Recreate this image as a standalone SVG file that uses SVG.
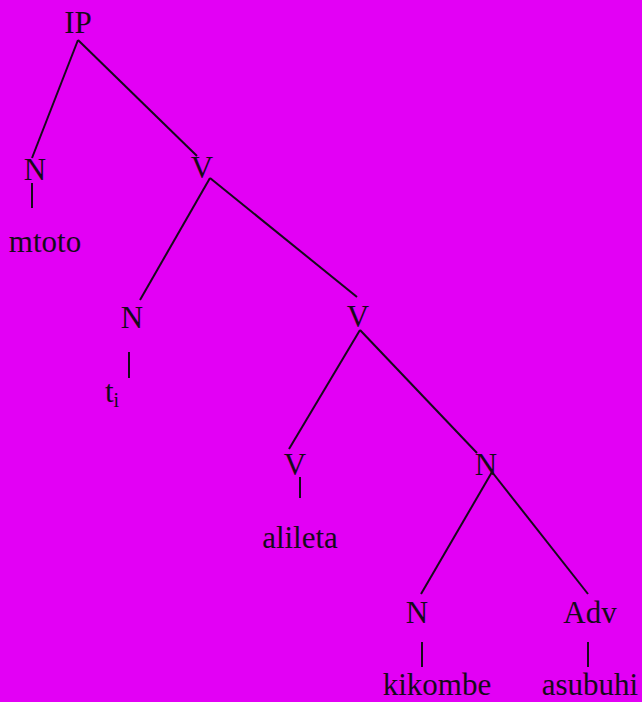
<svg xmlns="http://www.w3.org/2000/svg" width="642" height="702" viewBox="0 0 642 702">
<style>
text{font-family:"Liberation Serif","Times New Roman",serif;font-size:31px;fill:#160a1a;text-anchor:middle}
.e{stroke:#160a1a;stroke-width:2;fill:none}
</style>
<rect width="642" height="702" fill="#E300F5"/>
<g id="connectors">
<line class="e" x1="78" y1="40" x2="32" y2="158"/>
<line class="e" x1="78" y1="40" x2="197" y2="156"/>
<line class="e" x1="32" y1="183" x2="32" y2="208"/>
<line class="e" x1="210" y1="178" x2="140" y2="300"/>
<line class="e" x1="210" y1="178" x2="357" y2="297"/>
<line class="e" x1="129" y1="352" x2="129" y2="378"/>
<line class="e" x1="360" y1="330" x2="289" y2="449"/>
<line class="e" x1="360" y1="330" x2="477" y2="453"/>
<line class="e" x1="300" y1="477" x2="300" y2="498"/>
<line class="e" x1="492" y1="472" x2="421" y2="594"/>
<line class="e" x1="492" y1="472" x2="588" y2="594"/>
<line class="e" x1="422" y1="642" x2="422" y2="667"/>
<line class="e" x1="588" y1="642" x2="588" y2="667"/>
</g>
<g id="IP"><text x="78" y="33">IP</text></g>
<g id="N1"><text x="35" y="180">N</text></g>
<g id="mtoto"><text x="45" y="252">mtoto</text></g>
<g id="V1"><text x="202" y="178">V</text></g>
<g id="N2"><text x="132" y="328">N</text></g>
<g id="ti"><text x="112" y="402">t<tspan font-size="20" dy="5">i</tspan></text></g>
<g id="V2"><text x="358" y="327">V</text></g>
<g id="V3"><text x="295" y="475">V</text></g>
<g id="alileta"><text x="300" y="548">alileta</text></g>
<g id="N3"><text x="486" y="475">N</text></g>
<g id="N4"><text x="417" y="623">N</text></g>
<g id="kikombe"><text x="437" y="695">kikombe</text></g>
<g id="Adv"><text x="590" y="623">Adv</text></g>
<g id="asubuhi"><text x="590" y="695">asubuhi</text></g>
</svg>
